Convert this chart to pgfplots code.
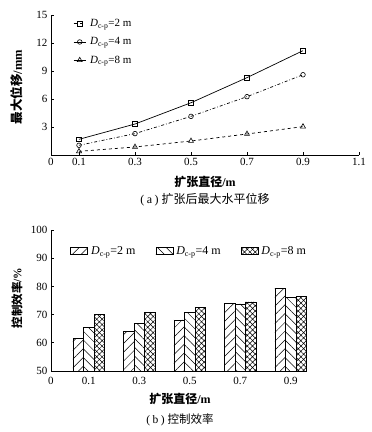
\documentclass[border=0pt]{standalone}
\usepackage{pgfplots}
\pgfplotsset{compat=1.18}
\usetikzlibrary{patterns.meta}
\usepackage{fontspec}
\setmainfont{Liberation Serif}
\newfontfamily\cjk{Noto Sans CJK SC}
\begin{document}
\begin{tikzpicture}
\useasboundingbox (0pt,0pt) rectangle (372pt,432pt);
\pgfplotsset{every axis/.append style={
  scale only axis,
  /pgf/number format/assume math mode=true,
  tick label style={font=\rmfamily\fontsize{11}{13}\selectfont},
  yticklabel={\pgfmathprintnumber{\tick}},
  axis line style={line width=0.7pt}, tick style={line width=0.7pt, black},
}}
% ---------- (a) ----------
\begin{axis}[at={(51pt,277pt)}, anchor=south west, width=308pt, height=140pt,
  axis lines*=left, tick align=inside, major tick length=3pt,
  xmin=0, xmax=1.1, ymin=0, ymax=15,
  xtick={0,0.1,0.3,0.5,0.7,0.9,1.1}, xticklabels={0,0.1,0.3,0.5,0.7,0.9,1.1},
  ytick={3,6,9,12,15},
  clip=false,
  legend style={at={(rel axis cs:0.072,0.985)}, anchor=north west, draw=none, fill=none,
    font=\fontsize{11}{13}\selectfont, row sep=5.5pt, inner sep=0pt,
    nodes={inner xsep=4pt}},
  legend cell align=left,
  legend image code/.code={\draw[#1, mark repeat=2, mark phase=2] plot coordinates {(0pt,0pt) (6pt,0pt) (12pt,0pt)};},
  every axis plot/.append style={black, line width=0.7pt, mark size=2.3pt, mark options={solid, fill=white, line width=0.6pt}},
]
\addlegendimage{dashed, mark=square}
\addlegendentry{{\itshape D}\textsubscript{c-p}=2 m}
\addlegendimage{solid, mark=o}
\addlegendentry{{\itshape D}\textsubscript{c-p}=4 m}
\addlegendimage{solid, mark=triangle, mark size=2.9pt}
\addlegendentry{{\itshape D}\textsubscript{c-p}=8 m}
\addplot[solid, mark=square] coordinates {(0.1,1.68)(0.3,3.32)(0.5,5.6)(0.7,8.29)(0.9,11.18)};
\addplot[dash dot, mark=o] coordinates {(0.1,1.04)(0.3,2.29)(0.5,4.14)(0.7,6.25)(0.9,8.6)};
\addplot[dashed, mark=triangle, mark size=2.9pt] coordinates {(0.1,0.39)(0.3,0.86)(0.5,1.5)(0.7,2.25)(0.9,3.04)};
\end{axis}
\node[font=\bfseries\fontsize{12.5}{14}\selectfont, rotate=90] at (17pt,345pt) {{\cjk 最大位移}/mm};
\node[font=\bfseries\fontsize{12}{14}\selectfont] at (205pt,250pt) {{\cjk 扩张直径}/m};
\node[font=\fontsize{12}{14}\selectfont] at (205pt,232pt) {(\hspace{2.5pt}a\hspace{2.5pt})\hspace{3pt}{\cjk 扩张后最大水平位移}};
% ---------- (b) ----------
\begin{axis}[at={(51pt,61pt)}, anchor=south west, width=256pt, height=141pt,
  axis lines*=left, tick align=inside,
  ybar=0pt, bar width=10.6pt,
  xmin=0.25, xmax=5.32, ymin=50, ymax=100,
  xtick={0.25,1,2,3,4,5}, xticklabels={0,0.1,0.3,0.5,0.7,0.9},
  x tick style={draw=none},
  ytick={50,60,70,80,90,100}, major tick length=3pt,
  legend columns=3,
  legend style={at={(rel axis cs:0.075,0.85)}, anchor=west, draw=none, fill=none,
    font=\fontsize{12}{14}\selectfont, inner sep=0pt,
    nodes={inner xsep=3pt},
    /tikz/every even column/.append style={column sep=17pt}},
  legend image code/.code={\draw[#1] (0pt,-3.5pt) rectangle (17pt,4pt);},
  every axis plot/.append style={draw=black, line width=0.7pt},
]
\addplot[pattern={Lines[angle=45,distance=6.2pt,line width=0.5pt]}] coordinates {(1,61.7)(2,64.1)(3,68.1)(4,73.9)(5,79.4)};
\addlegendentry{{\itshape D}\textsubscript{c-p}=2 m}
\addplot[pattern={Lines[angle=-45,distance=6.2pt,line width=0.5pt]}] coordinates {(1,65.4)(2,66.9)(3,70.7)(4,73.8)(5,76.1)};
\addlegendentry{{\itshape D}\textsubscript{c-p}=4 m}
\addplot[pattern={Hatch[angle=45,distance=3.8pt,line width=0.5pt]}] coordinates {(1,70.0)(2,70.9)(3,72.6)(4,74.5)(5,76.4)};
\addlegendentry{{\itshape D}\textsubscript{c-p}=8 m}
\end{axis}
\node[font=\bfseries\fontsize{11.5}{13}\selectfont, rotate=90] at (17pt,134pt) {{\cjk 控制效率}/\%};
\node[font=\bfseries\fontsize{12}{14}\selectfont] at (180pt,33pt) {{\cjk 扩张直径}/m};
\node[font=\fontsize{11.5}{13}\selectfont] at (180pt,12pt) {(\hspace{2.5pt}b\hspace{2.5pt})\hspace{3pt}{\cjk 控制效率}};
\end{tikzpicture}
\end{document}
